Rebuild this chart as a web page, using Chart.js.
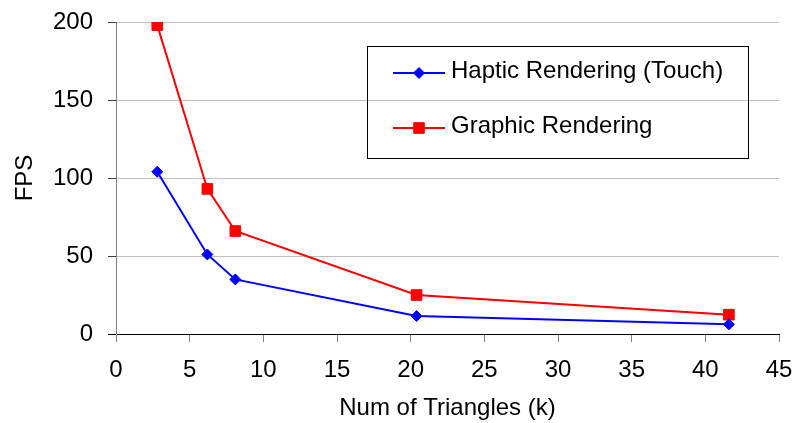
<!DOCTYPE html>
<html>
<head>
<meta charset="utf-8">
<script src="https://cdn.jsdelivr.net/npm/chart.js@4/dist/chart.umd.min.js"></script>
<style>
html,body{margin:0;padding:0;background:#fff;}
#c{display:block;}
</style>
</head>
<body>
<canvas id="c" width="796" height="423"></canvas>
<script>
const triangles = [2.8, 6.2, 8.1, 20.4, 41.6];
const hapticFps = [104, 51, 35, 11.5, 6.2];
const graphicFps = [198, 93, 66, 25, 12.4];
const seriesNames = ['Haptic Rendering (Touch)', 'Graphic Rendering'];
const xTitle = 'Num of Triangles (k)';
const yTitle = 'FPS';

const FONT = 'Liberation Sans, Arial, sans-serif';

function pts(xs, ys){ return xs.map((x,i)=>({x:x, y:ys[i]})); }

const legendBox = {
  id: 'legendBox',
  afterDraw(chart){
    const ctx = chart.ctx;
    ctx.save();
    ctx.strokeStyle = '#000';
    ctx.lineWidth = 1;
    ctx.strokeRect(367.5, 46.5, 381, 112);
    const rows = [73, 128];
    chart.data.datasets.forEach((ds, i) => {
      const y = rows[i];
      ctx.strokeStyle = ds.borderColor;
      ctx.lineWidth = 2;
      ctx.beginPath();
      ctx.moveTo(393, y);
      ctx.lineTo(445, y);
      ctx.stroke();
      ctx.fillStyle = ds.pointBackgroundColor;
      ctx.strokeStyle = ds.pointBorderColor;
      ctx.lineWidth = 1;
      Chart.helpers.drawPoint(ctx, {
        pointStyle: ds.pointStyle, radius: ds.pointRadius, borderWidth: 1, rotation: 0
      }, 419, y);
      ctx.fillStyle = '#000';
      ctx.font = '24px ' + FONT;
      ctx.textAlign = 'left';
      ctx.textBaseline = 'middle';
      ctx.fillText(ds.label, 451, y - 2);
    });
    ctx.restore();
  }
};

new Chart(document.getElementById('c'), {
  type: 'line',
  data: {
    datasets: [
      {
        label: seriesNames[0],
        data: pts(triangles, hapticFps),
        borderColor: '#0000ff',
        backgroundColor: '#0000ff',
        pointBackgroundColor: '#0000ff',
        pointBorderColor: '#0000ff',
        pointStyle: 'rectRot',
        pointRadius: 5.5,
        pointBorderWidth: 1,
        borderWidth: 2,
        tension: 0,
        fill: false
      },
      {
        label: seriesNames[1],
        data: pts(triangles, graphicFps),
        borderColor: '#ff0000',
        backgroundColor: '#ff0000',
        pointBackgroundColor: '#ff0000',
        pointBorderColor: '#ff0000',
        pointStyle: 'rect',
        pointRadius: 7.5,
        pointBorderWidth: 1,
        borderWidth: 2,
        tension: 0,
        fill: false
      }
    ]
  },
  options: {
    responsive: false,
    devicePixelRatio: 1,
    animation: false,
    layout: { padding: { top: 22, right: 17, left: 0, bottom: 0 } },
    plugins: { legend: { display: false }, tooltip: { enabled: false } },
    scales: {
      x: {
        type: 'linear',
        min: 0, max: 45,
        ticks: { stepSize: 5, color: '#000', padding: 14, font: { family: FONT, size: 24 } },
        grid: { drawOnChartArea: false, drawTicks: true, tickLength: 8, tickColor: '#808080', tickWidth: 1 },
        border: { color: '#000', width: 1 },
        title: { display: true, text: xTitle, color: '#000', padding: { top: 0, bottom: 0 }, font: { family: FONT, size: 24 } },
        afterFit(s){ s.height = 89; s.paddingLeft = 0; s.paddingRight = 0; }
      },
      y: {
        min: 0, max: 200,
        ticks: { stepSize: 50, color: '#000', padding: 15, font: { family: FONT, size: 24 } },
        grid: {
          color: (c) => c.tick && c.tick.value === 0 ? '#000' : '#c0c0c0',
          tickColor: (c) => c.tick && c.tick.value === 0 ? '#000' : '#404040',
          tickLength: 8, lineWidth: 1
        },
        border: { color: '#808080', width: 1 },
        title: { display: true, text: yTitle, color: '#000', padding: { top: 11, bottom: 0 }, font: { family: FONT, size: 24 } },
        afterFit(s){ s.width = 116; s.paddingTop = 0; s.paddingBottom = 0; }
      }
    }
  },
  plugins: [legendBox]
});
</script>
</body>
</html>
